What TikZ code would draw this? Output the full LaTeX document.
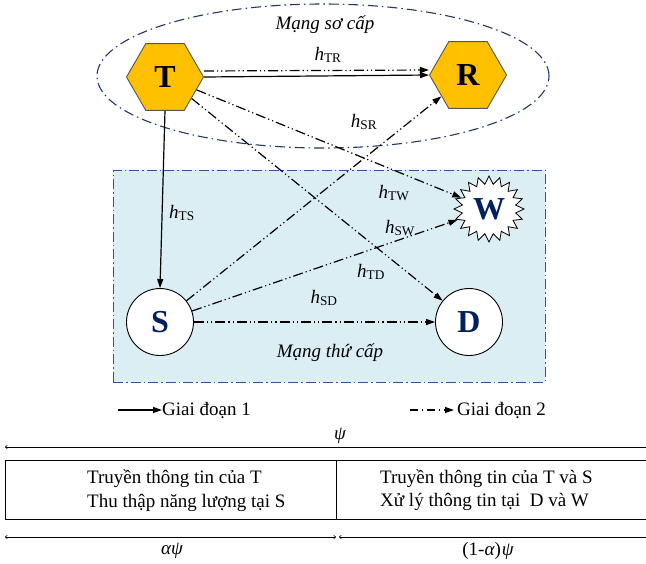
\documentclass[tikz,border=0pt]{standalone}
\usepackage{fontspec}
\setmainfont{Liberation Serif}
\usetikzlibrary{arrows.meta,shapes.geometric,shapes.symbols}
\definecolor{hexfill}{HTML}{FFC000}
\definecolor{hexdraw}{HTML}{555555}
\definecolor{netblue}{HTML}{2F5597}
\definecolor{ellblue}{HTML}{1F3864}
\definecolor{bgblue}{HTML}{DAEEF3}
\definecolor{lettblue}{HTML}{002060}
\tikzset{dimtip/.tip={To[length=2.5pt,width=4pt]}}
\begin{document}
\begin{tikzpicture}[x=1pt,y=-1pt,
  txt/.style={font=\fontsize{19}{23}\selectfont, inner sep=0pt},
  lbl/.style={font=\fontsize{19}{23}\selectfont\itshape, inner sep=0pt},
  hexnode/.style={regular polygon, regular polygon sides=6, minimum size=77pt, inner sep=0pt,
    fill=hexfill, draw=hexdraw, line width=0.9pt, font=\fontsize{32}{32}\selectfont\bfseries},
  circnode/.style={circle, minimum size=67pt, inner sep=0pt, draw=black, fill=white,
    line width=0.9pt, font=\fontsize{32}{32}\selectfont\bfseries, text=lettblue},
  burstnode/.style={starburst, starburst points=20, starburst point height=8pt, random starburst=0,
    minimum width=70pt, minimum height=66pt, inner sep=0pt, draw=black, fill=white,
    line width=0.8pt, font=\fontsize{32}{32}\selectfont\bfseries, text=lettblue},
  phaseone/.style={line width=1.2pt, -{Triangle[length=9pt,width=6pt]}},
  phasetwo/.style={line width=1.2pt, dash pattern=on 10pt off 3pt on 1.2pt off 3pt on 1.2pt off 3pt,
    -{Triangle[length=9pt,width=6pt]}},
  legtwo/.style={line width=1.2pt, dash pattern=on 8pt off 4pt on 1.2pt off 4pt,
    -{Triangle[length=9pt,width=6pt]}},
  dimline/.style={line width=0.6pt}
]
\useasboundingbox (0,0) rectangle (646,563);
% networks
\node[draw=netblue, fill=bgblue, line width=1pt, dash pattern=on 10pt off 3pt on 1.5pt off 3pt,
  minimum width=432pt, minimum height=212pt, inner sep=0pt] (sec) at (329,276) {};
\node[ellipse, draw=ellblue, line width=1.1pt, dash pattern=on 10pt off 4pt on 1.5pt off 4pt,
  minimum width=452pt, minimum height=144pt, inner sep=0pt] (prim) at (323,76) {};
\node[lbl] (primlbl) at (325,25) {Mạng sơ cấp};
\node[lbl] (seclbl) at (330,353) {Mạng thứ cấp};
% nodes
\node[hexnode] (T) at (165,77) {T};
\node[hexnode] (R) at (468,75) {R};
\node[circnode] (S) at (160,322) {S};
\node[circnode] (D) at (469,322) {D};
\node[burstnode] (W) at (489,209) {W};
% channel labels
\node[lbl] (hTR) at (328,55) {h\textsubscript{\upshape TR}};
\node[lbl] (hSR) at (364,122) {h\textsubscript{\upshape SR}};
\node[lbl] (hTW) at (394,193) {h\textsubscript{\upshape TW}};
\node[lbl] (hSW) at (400,228) {h\textsubscript{\upshape SW}};
\node[lbl] (hTD) at (371,272) {h\textsubscript{\upshape TD}};
\node[lbl] (hSD) at (324,298) {h\textsubscript{\upshape SD}};
\node[lbl] (hTS) at (182,213) {h\textsubscript{\upshape TS}};
% connectors
\draw[phaseone] (T.east) -- (R.west);
\draw[phasetwo] ([yshift=6pt]T.east) -- ([yshift=5pt]R.west);
\draw[phaseone] (T.south) -- (S.north);
\draw[phasetwo] (T) -- (W);
\draw[phasetwo] (T) -- (D);
\draw[phasetwo] (S) -- (R);
\draw[phasetwo] (S) -- (W);
\draw[phasetwo] (S) -- (D);
% legend
\coordinate (l1s) at (118,410);
\node[txt, anchor=west] (l1) at (162,410) {Giai đoạn 1};
\draw[phaseone] (l1s) -- (l1.west);
\coordinate (l2s) at (410,410);
\node[txt, anchor=west] (l2) at (457,410) {Giai đoạn 2};
\draw[legtwo] (l2s) -- ([xshift=-3pt]l2.west);
% time frame
\node[txt] (psi) at (340,436) {\itshape ψ};
\coordinate (psiL) at (5,447);
\coordinate (psiR) at (646,447);
\draw[dimline, {dimtip}-] (psiL) -- (psiR);
\draw[line width=0.8pt] (5,460) rectangle (660,519);
\coordinate (divT) at (336,460);
\coordinate (divB) at (336,519);
\draw[line width=0.8pt] (divT) -- (divB);
\node[txt, anchor=base west] (a1) at (87,483) {Truyền thông tin của T};
\node[txt, anchor=base west] (a2) at (87,507) {Thu thập năng lượng tại S};
\node[txt, anchor=base west] (b1) at (380,483) {Truyền thông tin của T và S};
\node[txt, anchor=base west] (b2) at (380,506) {Xử lý thông tin tại\ \ D và W};
\coordinate (aL) at (5,537);
\coordinate (aR) at (336,537);
\coordinate (bL) at (339,537);
\coordinate (bR) at (646,537);
\draw[dimline, {dimtip}-{dimtip}] (aL) -- (aR);
\draw[dimline, {dimtip}-] (bL) -- (bR);
\node[txt] (alab) at (172,551) {\itshape αψ};
\node[txt] (blab) at (488,551) {(1-{\itshape α})\kern1pt{\itshape ψ}};
\end{tikzpicture}
\end{document}
